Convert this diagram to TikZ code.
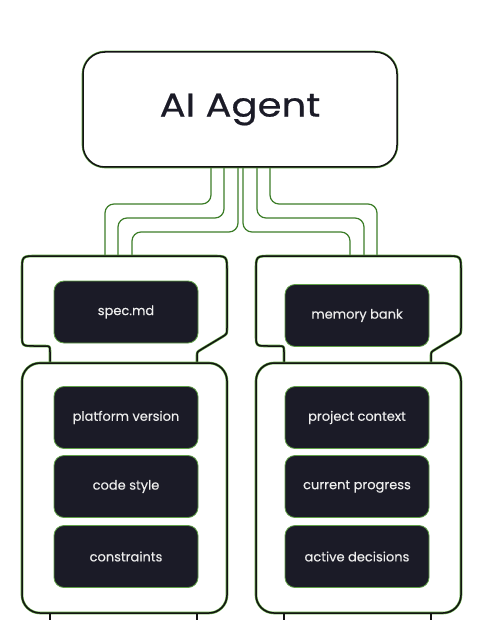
\documentclass[tikz,border=0pt]{standalone}
\usepackage{fontspec}
\setmainfont{Poppins}
\newfontfamily\agentfont{Poppins}[FakeStretch=1.17, FakeBold=0.6]
\newfontfamily\itemfont{Poppins}[FakeBold=0.25]
\definecolor{glowgreen}{RGB}{95,165,65}
\definecolor{wiregreen}{RGB}{60,125,40}
\definecolor{itemfill}{RGB}{27,27,39}
\definecolor{itemedge}{RGB}{95,160,70}
\definecolor{inkblack}{RGB}{20,20,20}
\begin{document}
\begin{tikzpicture}[x=1pt,y=-1pt,
  outline/.style={draw=inkblack, line width=1.5pt, line join=round,
    preaction={draw=glowgreen, line width=2.6pt, line join=round}},
  item/.style={rectangle, rounded corners=10pt, fill=itemfill, draw=itemedge,
    line width=0.8pt, minimum width=144pt, minimum height=62pt, inner sep=0pt,
    text=white!93!black, font=\itemfont\fontsize{13}{15}\selectfont},
  agentbox/.style={rectangle, rounded corners=22pt, fill=white, outline,
    minimum width=314pt, minimum height=115pt, inner sep=0pt,
    text=itemfill, font=\agentfont\fontsize{33}{38}\selectfont},
  wire/.style={draw=wiregreen, line width=1.2pt, rounded corners=9pt},
  column/.pic={
    \draw[outline] (50,362) -- (50,352) .. controls (50,346) .. (44,346)
      -- (34,346) .. controls (22,346) .. (22,334) -- (22,271)
      .. controls (22,256) .. (37,256) -- (212,256)
      .. controls (227,256) .. (227,271) -- (227,328)
      .. controls (227,334) .. (222,337) -- (202,349)
      .. controls (197,352) .. (197,356) -- (197,362);
    \draw[outline, rounded corners=18pt] (22,363) rectangle (227,613);
    \draw[outline] (50,613) -- (50,622);
    \draw[outline] (197,613) -- (197,622);
  }]
\useasboundingbox[fill=white] (0,0) rectangle (482,620);

% connector end points
\coordinate (a1) at (211,167); \coordinate (a2) at (224,167); \coordinate (a3) at (238,167);
\coordinate (a4) at (243,167); \coordinate (a5) at (257,167); \coordinate (a6) at (270,167);
\coordinate (l1) at (105,256); \coordinate (l2) at (118,256); \coordinate (l3) at (132,256);
\coordinate (r3) at (350,256); \coordinate (r2) at (364,256); \coordinate (r1) at (377,256);

\draw[wire] (a1) -- ++(0,37) -| (l1);
\draw[wire] (a2) -- ++(0,51) -| (l2);
\draw[wire] (a3) -- ++(0,65) -| (l3);
\draw[wire] (a4) -- ++(0,65) -| (r3);
\draw[wire] (a5) -- ++(0,51) -| (r2);
\draw[wire] (a6) -- ++(0,37) -| (r1);

\node[agentbox] (agent) at (240,109.5) {AI Agent};

\pic at (0,0) {column};
\pic at (234,0) {column};

\node[item] (spec) at (126,312) {spec.md};
\node[item] (plat) at (126,417.5) {platform version};
\node[item] (code) at (126,486.5) {code style};
\node[item] (cons) at (126,556.5) {constraints};

\node[item] (mem) at (357,315.5) {memory bank};
\node[item] (proj) at (357,417.5) {project context};
\node[item] (prog) at (357,486.5) {current progress};
\node[item] (dec) at (357,556.5) {active decisions};
\end{tikzpicture}
\end{document}
